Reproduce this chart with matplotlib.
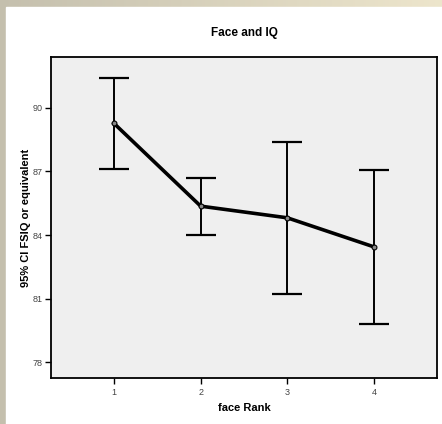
import numpy as np
import matplotlib
matplotlib.use('Agg')
import matplotlib.pyplot as plt

# data
ranks = [1, 2, 3, 4]
means = [89.26, 85.36, 84.81, 83.44]
ci_low = [87.12, 84.01, 81.23, 79.81]
ci_high = [91.42, 86.68, 88.37, 87.06]
yticks = [78, 81, 84, 87, 90]

plt.rcParams['font.family'] = ['Liberation Sans', 'DejaVu Sans']

W, H = 442, 424
fig = plt.figure(figsize=(W / 100, H / 100), dpi=100)
fig.patch.set_facecolor('white')

# beige frame on the left and top (gradient)
bg = fig.add_axes([0, 0, 1, 1], zorder=-10)
grad = np.linspace(0, 1, 256)
c0 = np.array([0.77, 0.75, 0.68])
c1 = np.array([0.93, 0.90, 0.80])
img = c0[None, :] + (c1 - c0)[None, :] * grad[:, None]
bg.imshow(img[None, :, :], aspect='auto', extent=[0, 1, 0, 1])
bg.add_patch(plt.Rectangle((6 / W, 0), 1, 1 - 7 / H, color='white'))
bg.set_xlim(0, 1)
bg.set_ylim(0, 1)
bg.axis('off')

ax = fig.add_axes([51 / W, 1 - 378 / H, (437 - 51) / W, (378 - 57) / H])
ax.set_facecolor('#efefef')

lo = np.array(means) - np.array(ci_low)
hi = np.array(ci_high) - np.array(means)
ax.errorbar(ranks, means, yerr=[lo, hi], fmt='none', ecolor='black',
            elinewidth=1.4, capsize=11, capthick=1.6)
ax.plot(ranks, means, color='black', lw=2.6, marker='o', ms=3.5,
        mfc='#888888', mec='black', mew=0.8)

ax.set_xlim(0.273, 4.727)
ax.set_ylim(77.26, 92.39)
ax.set_xticks(ranks)
ax.set_yticks(yticks)
ax.tick_params(labelsize=6.5, length=4, width=1, colors='black', labelcolor='#444444')
ax.tick_params(axis='y', pad=2)
for s in ax.spines.values():
    s.set_linewidth(1.3)

ax.set_title('Face and IQ', fontsize=8.5, fontweight='bold', pad=15)
ax.set_xlabel('face Rank', fontsize=8, fontweight='bold')
ax.set_ylabel('95% CI FSIQ or equivalent', fontsize=8, fontweight='bold', labelpad=1)

fig.savefig('out.png', dpi=100)
